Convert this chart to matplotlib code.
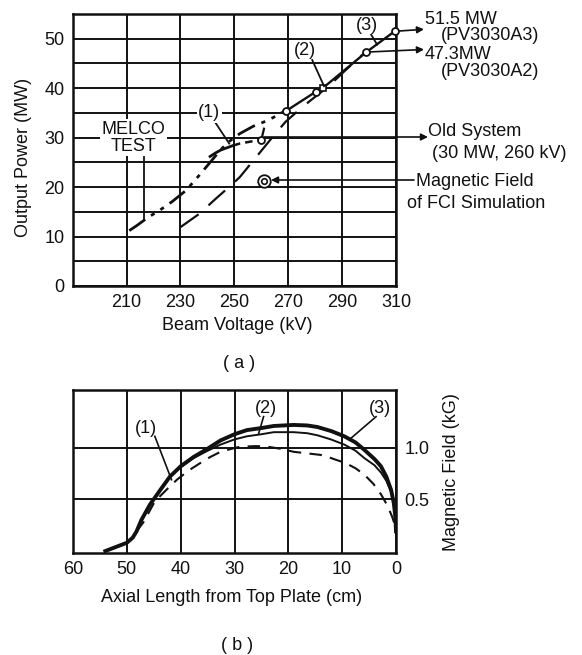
import matplotlib
matplotlib.use("Agg")
import matplotlib.pyplot as plt
from matplotlib import font_manager

# ---------------- data (a) ----------------
melco_kv = [211, 214, 218, 222, 227, 232, 237, 241, 245, 248, 252, 257, 262, 266, 269]
melco_mw = [11.2, 12.3, 13.9, 15.2, 17.1, 19.3, 22.4, 25.0, 27.6, 29.2, 30.8, 32.3, 33.4, 34.5, 35.5]

old_kv = [230, 237, 243, 248, 252, 258, 264, 269, 274, 278, 285, 291, 298]
old_mw = [11.9, 14.6, 17.6, 20.0, 22.0, 26.0, 30.0, 33.2, 35.6, 37.4, 40.4, 43.5, 47.0]

curve1_kv = [241, 243, 245, 247.5, 249.5]
curve1_mw = [26.2, 26.9, 27.5, 28.0, 28.4]
curve1b_kv = [249.5, 252, 255, 258, 260]
curve1b_mw = [28.4, 28.8, 29.1, 29.4, 29.5]

design_kv = [269.2, 280.3, 283, 299, 309.5]
design_mw = [35.4, 39.3, 40.1, 47.3, 51.5]

marker_kv = [260, 269.2, 280.3, 299, 309.5]
marker_mw = [29.5, 35.4, 39.3, 47.3, 51.5]

fci_kv = 261
fci_mw = 21.3

xticks_a = [210, 230, 250, 270, 290, 310]
yticks_a = [0, 10, 20, 30, 40, 50]

# ---------------- data (b) ----------------
z3 = [54, 52, 50, 48.9, 48.2, 47.3, 45.7, 43.8, 42, 40, 37.6, 35, 32.6, 30, 27.7, 25, 22.7, 19, 16.5,
      14.6, 12, 9.6, 7.5, 5.9, 4, 2.8, 1.8, 0.9, 0.4, 0.1, 0]
b3 = [0, 0.04, 0.08, 0.13, 0.19, 0.30, 0.45, 0.59, 0.72, 0.82, 0.91, 0.99, 1.07, 1.13, 1.17, 1.19, 1.21, 1.22, 1.215,
      1.20, 1.16, 1.11, 1.05, 0.98, 0.89, 0.82, 0.72, 0.59, 0.46, 0.32, 0.19]

z2 = [54, 52, 50, 48.9, 48.2, 47.3, 45.7, 43.8, 42, 40, 37.6, 35, 32.6, 30, 27.7, 25, 22.7, 19, 16.5,
      14.6, 12.1, 9.6, 7.5, 5.9, 4, 2.8, 1.8, 0.9, 0.4, 0.1, 0]
b2 = [0, 0.04, 0.08, 0.13, 0.19, 0.30, 0.45, 0.59, 0.72, 0.81, 0.90, 0.97, 1.03, 1.08, 1.11, 1.13, 1.15, 1.15, 1.14,
      1.12, 1.08, 1.03, 0.97, 0.90, 0.83, 0.76, 0.68, 0.57, 0.46, 0.32, 0.19]

z1 = [48.2, 46.9, 44.8, 42.5, 40.7, 38.5, 36.4, 34.5, 32.6, 30.5, 28.9, 26, 23.9, 21.5, 19, 16.5, 14, 12.1,
      9.3, 7.5, 5.9, 4.2, 2.8, 1.6, 0.7, 0.2, 0]
b1 = [0.19, 0.28, 0.48, 0.60, 0.69, 0.78, 0.85, 0.91, 0.96, 0.99, 1.01, 1.015, 1.01, 0.99, 0.96, 0.945, 0.93, 0.90,
      0.85, 0.80, 0.74, 0.65, 0.55, 0.44, 0.33, 0.25, 0.19]

xticks_b = [60, 50, 40, 30, 20, 10, 0]
yticks_b = [0.5, 1.0]

W, H = 582, 655
avail = {f.name for f in font_manager.fontManager.ttflist}
FAM = 'Liberation Sans' if 'Liberation Sans' in avail else 'DejaVu Sans'
plt.rcParams['font.family'] = [FAM, 'DejaVu Sans']
FS = 13
K = '#111111'

fig = plt.figure(figsize=(W / 100, H / 100), dpi=100)


def fx(x):
    return x / W


def fy(y):
    return 1 - y / H


def fp(x, y):
    return (x, H - y)


# ---------------- axes (a) ----------------
ax = fig.add_axes([fx(72.7), fy(286), fx(396) - fx(72.7), fy(14) - fy(286)])
ax.set_xlim(190, 310)
ax.set_ylim(0, 55)
ax.set_xticks(xticks_a)
ax.set_yticks(yticks_a)
ax.set_yticks([5, 15, 25, 35, 45], minor=True)
ax.grid(True, which='both', color=K, lw=1.4)
ax.tick_params(which='both', length=0, labelsize=FS, pad=6, colors=K)
for s in ax.spines.values():
    s.set_linewidth(1.8)
    s.set_color(K)

ax.plot(melco_kv, melco_mw, color=K, lw=2.0, dashes=(7, 2.5, 1.5, 2.5, 1.5, 2.5), zorder=3)
ax.plot(old_kv, old_mw, color=K, lw=1.6, dashes=(10, 6), zorder=3)
ax.plot(curve1_kv, curve1_mw, color=K, lw=2.0, zorder=3)
ax.plot(curve1b_kv, curve1b_mw, color=K, lw=1.8, dashes=(3, 2), zorder=3)
ax.plot([260, 261], [29.5, 31.8], color=K, lw=1.6, zorder=3)
ax.plot(design_kv, design_mw, color=K, lw=1.7, zorder=3)
ax.plot(marker_kv, marker_mw, 'o', ms=5, mfc='white', mec=K, mew=1.3, zorder=4, clip_on=False)
ax.plot([283], [40.1], 's', ms=5, mfc='white', mec=K, mew=1.2, zorder=4)
ax.plot([fci_kv], [fci_mw], 'o', ms=9, mfc='white', mec=K, mew=1.3, zorder=4)
ax.plot([fci_kv], [fci_mw], 'o', ms=4, mfc='white', mec=K, mew=1.2, zorder=5)

wb = dict(facecolor='white', edgecolor='none', pad=1.0)
ax.text(212.6, 30, 'MELCO\nTEST', ha='center', va='center', fontsize=FS, color=K,
        linespacing=1.0, bbox=wb, zorder=6)
ax.plot([216.3, 216.3], [26, 13.4], color=K, lw=1.3, zorder=5)
ax.text(240.7, 35, '(1)', ha='center', va='center', fontsize=FS, color=K, bbox=wb, zorder=6)
ax.plot([243, 248.1], [33, 28.8], color=K, lw=1.3, zorder=5)
ax.text(276.3, 47.7, '(2)', ha='center', va='center', fontsize=FS, color=K, zorder=6)
ax.plot([278.9, 283.3], [45.7, 40.4], color=K, lw=1.3, zorder=5)
ax.text(299.3, 52.7, '(3)', ha='center', va='center', fontsize=FS, color=K, zorder=6)
ax.plot([300.8, 303], [50.8, 48.8], color=K, lw=1.3, zorder=5)

arw = dict(arrowstyle='-|>', color=K, lw=1.2, mutation_scale=10, shrinkA=0, shrinkB=0)

ax.annotate('', xy=fp(424, 29.3), xycoords='figure pixels', xytext=(309.5, 51.5),
            textcoords='data', arrowprops=arw, annotation_clip=False)
ax.annotate('', xy=fp(424, 49.5), xycoords='figure pixels', xytext=(299, 47.3),
            textcoords='data', arrowprops=arw, annotation_clip=False)
ax.annotate('', xy=fp(428, 137), xycoords='figure pixels', xytext=fp(264, 137),
            textcoords='figure pixels', arrowprops=arw, annotation_clip=False)
ax.annotate('', xy=fp(271, 180), xycoords='figure pixels', xytext=fp(414, 180),
            textcoords='figure pixels', arrowprops=arw, annotation_clip=False)

fig.text(fx(425), fy(19.5), '51.5 MW', fontsize=FS, ha='left', va='center', color=K)
fig.text(fx(441), fy(35), '(PV3030A3)', fontsize=FS, ha='left', va='center', color=K)
fig.text(fx(425), fy(54.5), '47.3MW', fontsize=FS, ha='left', va='center', color=K)
fig.text(fx(441), fy(71), '(PV3030A2)', fontsize=FS, ha='left', va='center', color=K)
fig.text(fx(428), fy(132), 'Old System', fontsize=FS, ha='left', va='center', color=K)
fig.text(fx(432), fy(153), '(30 MW, 260 kV)', fontsize=FS, ha='left', va='center', color=K)
fig.text(fx(416), fy(182), 'Magnetic Field', fontsize=FS, ha='left', va='center', color=K)
fig.text(fx(407), fy(204), 'of FCI Simulation', fontsize=FS, ha='left', va='center', color=K)

fig.text(fx(24), fy(157), 'Output Power (MW)', fontsize=FS, rotation=90, ha='center', va='center', color=K)
fig.text(fx(237), fy(326), 'Beam Voltage (kV)', fontsize=FS, ha='center', va='center', color=K)
fig.text(fx(239), fy(364), '( a )', fontsize=FS, ha='center', va='center', color=K)

# ---------------- axes (b) ----------------
bx = fig.add_axes([fx(73), fy(552.7), fx(396) - fx(73), fy(390) - fy(552.7)])
bx.set_xlim(60, 0)
bx.set_ylim(-0.016, 1.558)
bx.set_xticks(xticks_b)
bx.set_yticks(yticks_b)
bx.set_yticklabels(['0.5', '1.0'])
bx.yaxis.tick_right()
bx.grid(True, color=K, lw=1.4)
bx.tick_params(which='both', length=0, labelsize=FS, pad=6, colors=K)
for s in bx.spines.values():
    s.set_linewidth(1.8)
    s.set_color(K)

bx.plot(z3, b3, color=K, lw=2.8, zorder=3, solid_joinstyle='round')
bx.plot(z2, b2, color=K, lw=1.4, zorder=3)
bx.plot(z1, b1, color=K, lw=1.5, dashes=(6, 4), zorder=3)

bx.text(46.5, 1.19, '(1)', ha='center', va='center', fontsize=FS, color=K)
bx.plot([44.8, 41.7], [1.11, 0.69], color=K, lw=1.2, zorder=4)
bx.text(24.1, 1.38, '(2)', ha='center', va='center', fontsize=FS, color=K)
bx.plot([24.6, 25.5], [1.30, 1.14], color=K, lw=1.2, zorder=4)
bx.text(3.0, 1.38, '(3)', ha='center', va='center', fontsize=FS, color=K)
bx.plot([3.7, 8.4], [1.30, 1.09], color=K, lw=1.2, zorder=4)

fig.text(fx(452), fy(472), 'Magnetic Field (kG)', fontsize=FS, rotation=90, ha='center', va='center', color=K)
fig.text(fx(232), fy(598), 'Axial Length from Top Plate (cm)', fontsize=FS, ha='center', va='center', color=K)
fig.text(fx(237), fy(645), '( b )', fontsize=FS, ha='center', va='center', color=K)

fig.savefig('out.png', dpi=100, facecolor='white')
